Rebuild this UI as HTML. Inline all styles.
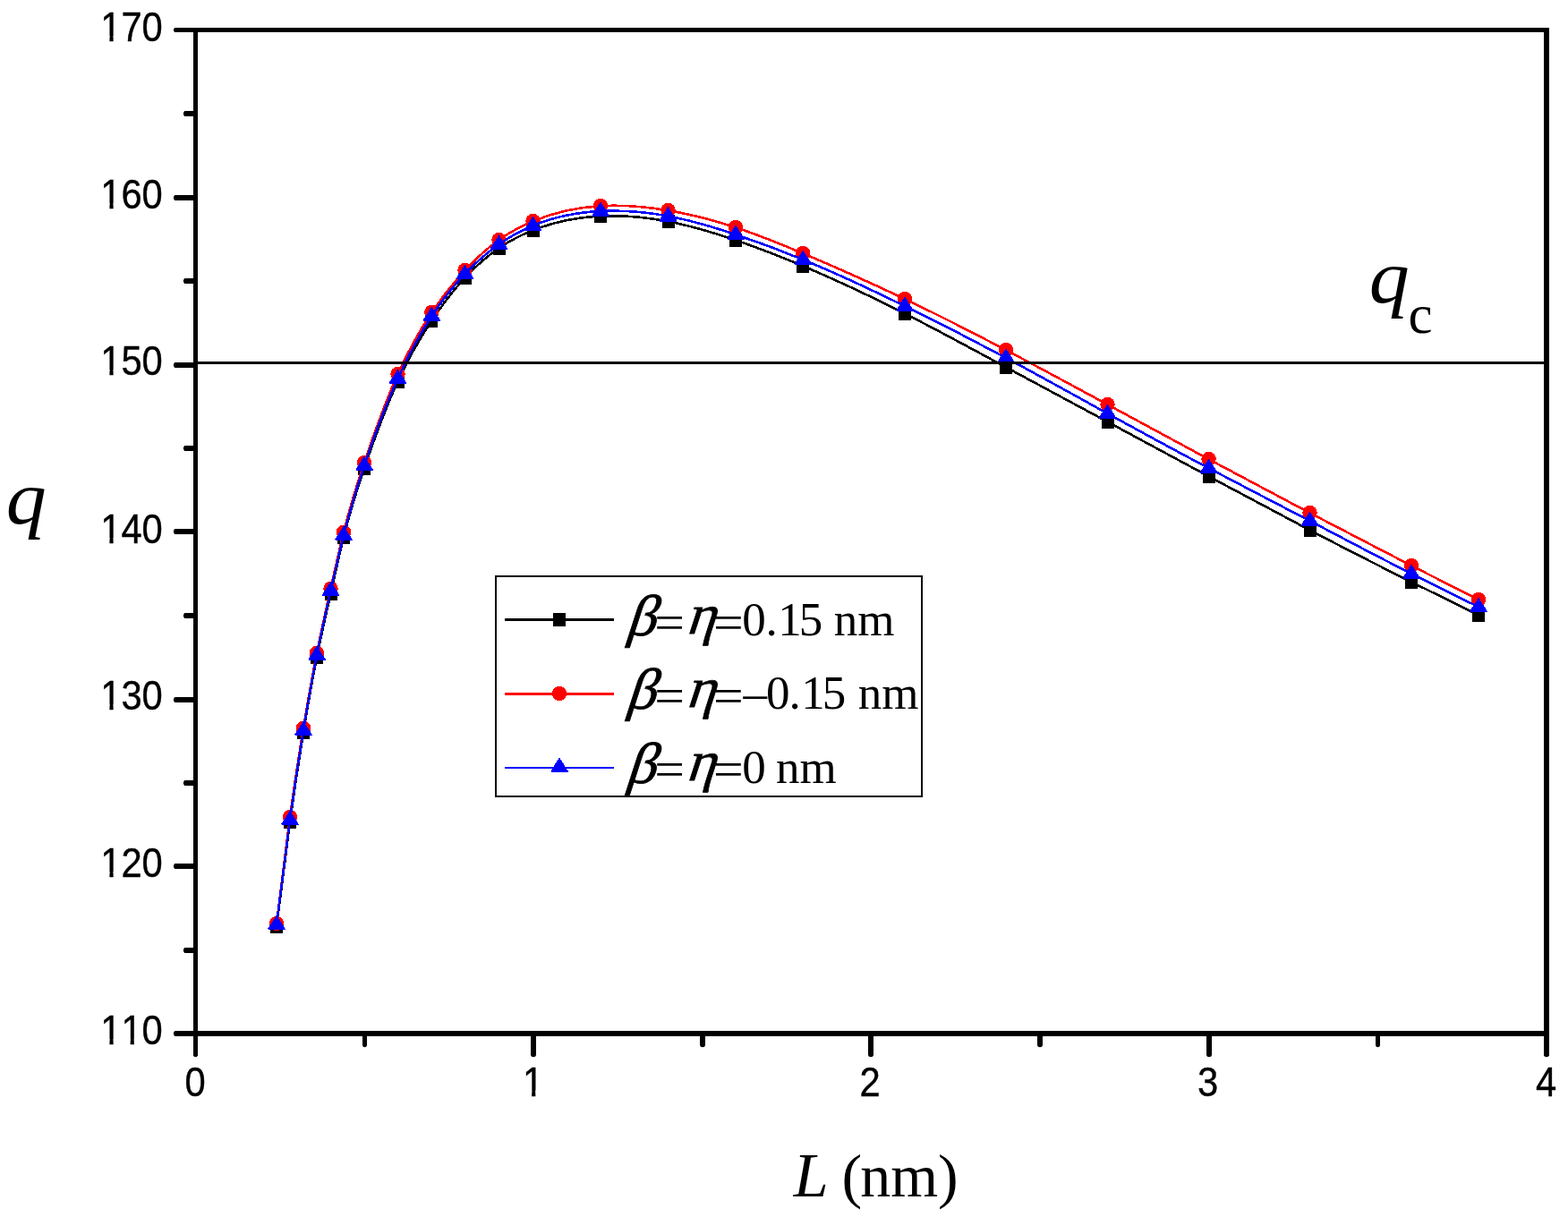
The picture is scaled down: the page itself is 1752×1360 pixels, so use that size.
<!DOCTYPE html>
<html lang="en"><head><meta charset="utf-8"><title>q versus L</title>
<style>html,body{margin:0;padding:0;background:#fff;}body{width:1752px;height:1360px;overflow:hidden;}svg{display:block;}text{fill:#000;font-kerning:none;}.tk{font-family:"Liberation Sans",sans-serif;font-size:46px;stroke:#000;stroke-width:0.4px;}.sr{font-family:"Liberation Serif",serif;}.it{font-style:italic;}.bd{font-weight:bold;}.gk{stroke:#000;stroke-width:0.8px;}</style></head><body>
<svg width="1752" height="1360" viewBox="0 0 1752 1360">
<rect width="1752" height="1360" fill="#fff"/>
<g shape-rendering="crispEdges">
<path d="M309.00,1035.30C314.00,995.11 319.00,954.92 324.00,918.40C329.00,881.88 334.00,849.04 339.00,818.40C344.00,787.76 349.00,759.32 354.00,734.30C359.17,708.45 364.33,686.26 369.50,663.30C374.33,641.82 379.17,619.68 384.00,600.30C391.67,569.56 399.33,545.77 407.00,523.30C419.50,486.67 432.00,453.55 444.50,426.30C457.13,398.76 469.77,377.23 482.40,358.30C494.77,339.77 507.13,323.74 519.50,310.40C532.17,296.74 544.83,285.90 557.50,277.30C570.17,268.70 582.83,262.32 595.50,257.30C620.67,247.32 645.83,242.67 671.00,241.50C696.17,240.33 721.33,242.64 746.50,247.50C771.67,252.36 796.83,259.79 822.00,268.40C847.07,276.98 872.13,286.73 897.20,297.30C935.13,313.29 973.07,331.13 1011.00,350.40C1048.67,369.53 1086.33,390.07 1124.00,410.40C1161.83,430.82 1199.67,451.04 1237.50,471.40C1275.20,491.69 1312.90,512.12 1350.60,532.40C1388.23,552.64 1425.87,572.72 1463.50,592.40C1501.33,612.18 1539.17,631.55 1577.00,650.40C1602.00,662.85 1627.00,675.08 1652.00,687.30" fill="none" stroke="#000000" stroke-width="2.6" stroke-linejoin="round"/>
<rect x="302.0" y="1027.8" width="14" height="15" fill="#000000"/>
<rect x="317.0" y="910.9" width="14" height="15" fill="#000000"/>
<rect x="332.0" y="810.9" width="14" height="15" fill="#000000"/>
<rect x="347.0" y="726.8" width="14" height="15" fill="#000000"/>
<rect x="362.5" y="655.8" width="14" height="15" fill="#000000"/>
<rect x="377.0" y="592.8" width="14" height="15" fill="#000000"/>
<rect x="400.0" y="515.8" width="14" height="15" fill="#000000"/>
<rect x="437.5" y="418.8" width="14" height="15" fill="#000000"/>
<rect x="475.4" y="350.8" width="14" height="15" fill="#000000"/>
<rect x="512.5" y="302.9" width="14" height="15" fill="#000000"/>
<rect x="550.5" y="269.8" width="14" height="15" fill="#000000"/>
<rect x="588.5" y="249.8" width="14" height="15" fill="#000000"/>
<rect x="664.0" y="234.0" width="14" height="15" fill="#000000"/>
<rect x="739.5" y="240.0" width="14" height="15" fill="#000000"/>
<rect x="815.0" y="260.9" width="14" height="15" fill="#000000"/>
<rect x="890.2" y="289.8" width="14" height="15" fill="#000000"/>
<rect x="1004.0" y="342.9" width="14" height="15" fill="#000000"/>
<rect x="1117.0" y="402.9" width="14" height="15" fill="#000000"/>
<rect x="1230.5" y="463.9" width="14" height="15" fill="#000000"/>
<rect x="1343.6" y="524.9" width="14" height="15" fill="#000000"/>
<rect x="1456.5" y="584.9" width="14" height="15" fill="#000000"/>
<rect x="1570.0" y="642.9" width="14" height="15" fill="#000000"/>
<rect x="1645.0" y="679.8" width="14" height="15" fill="#000000"/>
<path d="M309.00,1032.20C314.00,991.06 319.00,949.91 324.00,913.20C329.00,876.49 334.00,844.21 339.00,813.90C344.00,783.59 349.00,755.24 354.00,730.00C359.17,703.92 364.33,681.17 369.50,658.00C374.33,636.33 379.17,614.29 384.00,594.90C391.67,564.14 399.33,540.04 407.00,517.20C419.50,479.97 432.00,446.10 444.50,418.20C457.13,390.00 469.77,367.90 482.40,349.10C494.77,330.69 507.13,315.45 519.50,302.20C532.17,288.63 544.83,277.14 557.50,268.10C570.17,259.06 582.83,252.45 595.50,247.20C620.67,236.76 645.83,231.66 671.00,230.20C696.17,228.74 721.33,230.91 746.50,235.20C771.67,239.49 796.83,245.89 822.00,254.20C847.07,262.47 872.13,272.64 897.20,283.20C935.13,299.18 973.07,316.08 1011.00,334.20C1048.67,352.19 1086.33,371.39 1124.00,391.20C1161.83,411.09 1199.67,431.60 1237.50,452.10C1275.20,472.53 1312.90,492.96 1350.60,513.20C1388.23,533.40 1425.87,553.41 1463.50,573.20C1501.33,593.10 1539.17,612.78 1577.00,632.10C1602.00,644.87 1627.00,657.48 1652.00,670.10" fill="none" stroke="#ff0000" stroke-width="2.6" stroke-linejoin="round"/>
<circle cx="309.0" cy="1032.0" r="8.2" fill="#ff0000"/>
<circle cx="324.0" cy="913.0" r="8.2" fill="#ff0000"/>
<circle cx="339.0" cy="813.7" r="8.2" fill="#ff0000"/>
<circle cx="354.0" cy="729.8" r="8.2" fill="#ff0000"/>
<circle cx="369.5" cy="657.8" r="8.2" fill="#ff0000"/>
<circle cx="384.0" cy="594.7" r="8.2" fill="#ff0000"/>
<circle cx="407.0" cy="517.0" r="8.2" fill="#ff0000"/>
<circle cx="444.5" cy="418.0" r="8.2" fill="#ff0000"/>
<circle cx="482.4" cy="348.9" r="8.2" fill="#ff0000"/>
<circle cx="519.5" cy="302.0" r="8.2" fill="#ff0000"/>
<circle cx="557.5" cy="267.9" r="8.2" fill="#ff0000"/>
<circle cx="595.5" cy="247.0" r="8.2" fill="#ff0000"/>
<circle cx="671.0" cy="230.0" r="8.2" fill="#ff0000"/>
<circle cx="746.5" cy="235.0" r="8.2" fill="#ff0000"/>
<circle cx="822.0" cy="254.0" r="8.2" fill="#ff0000"/>
<circle cx="897.2" cy="283.0" r="8.2" fill="#ff0000"/>
<circle cx="1011.0" cy="334.0" r="8.2" fill="#ff0000"/>
<circle cx="1124.0" cy="391.0" r="8.2" fill="#ff0000"/>
<circle cx="1237.5" cy="451.9" r="8.2" fill="#ff0000"/>
<circle cx="1350.6" cy="513.0" r="8.2" fill="#ff0000"/>
<circle cx="1463.5" cy="573.0" r="8.2" fill="#ff0000"/>
<circle cx="1577.0" cy="631.9" r="8.2" fill="#ff0000"/>
<circle cx="1652.0" cy="669.9" r="8.2" fill="#ff0000"/>
<path d="M309.00,1033.20C314.00,992.98 319.00,952.75 324.00,916.20C329.00,879.65 334.00,846.76 339.00,816.20C344.00,785.64 349.00,757.39 354.00,732.10C359.17,705.97 364.33,682.99 369.50,660.10C374.33,638.68 379.17,617.34 384.00,598.20C391.67,567.84 399.33,543.01 407.00,520.10C419.50,482.75 432.00,450.49 444.50,423.00C457.13,395.22 469.77,372.30 482.40,353.10C494.77,334.31 507.13,319.08 519.50,306.10C532.17,292.80 544.83,281.86 557.50,273.00C570.17,264.14 582.83,257.36 595.50,252.10C620.67,241.65 645.83,237.22 671.00,236.00C696.17,234.78 721.33,236.77 746.50,241.50C771.67,246.23 796.83,253.69 822.00,262.10C847.07,270.48 872.13,279.80 897.20,290.10C935.13,305.69 973.07,323.51 1011.00,342.10C1048.67,360.56 1086.33,379.77 1124.00,399.90C1161.83,420.12 1199.67,441.27 1237.50,462.10C1275.20,482.85 1312.90,503.29 1350.60,523.20C1388.23,543.08 1425.87,562.43 1463.50,582.10C1501.33,601.87 1539.17,621.96 1577.00,641.10C1602.00,653.74 1627.00,665.97 1652.00,678.20" fill="none" stroke="#0000ff" stroke-width="2.6" stroke-linejoin="round"/>
<polygon points="309.0,1022.6 318.5,1037.5 318.5,1039.2 299.5,1039.2 299.5,1037.5" fill="#0000ff"/>
<polygon points="324.0,905.6 333.5,920.5 333.5,922.2 314.5,922.2 314.5,920.5" fill="#0000ff"/>
<polygon points="339.0,805.6 348.5,820.5 348.5,822.2 329.5,822.2 329.5,820.5" fill="#0000ff"/>
<polygon points="354.0,721.5 363.5,736.4 363.5,738.1 344.5,738.1 344.5,736.4" fill="#0000ff"/>
<polygon points="369.5,649.5 379.0,664.4 379.0,666.1 360.0,666.1 360.0,664.4" fill="#0000ff"/>
<polygon points="384.0,587.6 393.5,602.5 393.5,604.2 374.5,604.2 374.5,602.5" fill="#0000ff"/>
<polygon points="407.0,509.5 416.5,524.4 416.5,526.1 397.5,526.1 397.5,524.4" fill="#0000ff"/>
<polygon points="444.5,412.4 454.0,427.3 454.0,429.0 435.0,429.0 435.0,427.3" fill="#0000ff"/>
<polygon points="482.4,342.5 491.9,357.4 491.9,359.1 472.9,359.1 472.9,357.4" fill="#0000ff"/>
<polygon points="519.5,295.5 529.0,310.4 529.0,312.1 510.0,312.1 510.0,310.4" fill="#0000ff"/>
<polygon points="557.5,262.4 567.0,277.3 567.0,279.0 548.0,279.0 548.0,277.3" fill="#0000ff"/>
<polygon points="595.5,241.5 605.0,256.4 605.0,258.1 586.0,258.1 586.0,256.4" fill="#0000ff"/>
<polygon points="671.0,225.4 680.5,240.3 680.5,242.0 661.5,242.0 661.5,240.3" fill="#0000ff"/>
<polygon points="746.5,230.9 756.0,245.8 756.0,247.5 737.0,247.5 737.0,245.8" fill="#0000ff"/>
<polygon points="822.0,251.5 831.5,266.4 831.5,268.1 812.5,268.1 812.5,266.4" fill="#0000ff"/>
<polygon points="897.2,279.5 906.7,294.4 906.7,296.1 887.7,296.1 887.7,294.4" fill="#0000ff"/>
<polygon points="1011.0,331.5 1020.5,346.4 1020.5,348.1 1001.5,348.1 1001.5,346.4" fill="#0000ff"/>
<polygon points="1124.0,389.3 1133.5,404.2 1133.5,405.9 1114.5,405.9 1114.5,404.2" fill="#0000ff"/>
<polygon points="1237.5,451.5 1247.0,466.4 1247.0,468.1 1228.0,468.1 1228.0,466.4" fill="#0000ff"/>
<polygon points="1350.6,512.6 1360.1,527.5 1360.1,529.2 1341.1,529.2 1341.1,527.5" fill="#0000ff"/>
<polygon points="1463.5,571.5 1473.0,586.4 1473.0,588.1 1454.0,588.1 1454.0,586.4" fill="#0000ff"/>
<polygon points="1577.0,630.5 1586.5,645.4 1586.5,647.1 1567.5,647.1 1567.5,645.4" fill="#0000ff"/>
<polygon points="1652.0,667.6 1661.5,682.5 1661.5,684.2 1642.5,684.2 1642.5,682.5" fill="#0000ff"/>
</g>
<rect x="219" y="404" width="1508" height="3" fill="#000" shape-rendering="crispEdges"/>
<g fill="#000" shape-rendering="crispEdges">
<rect x="216" y="31" width="5" height="1149"/>
<rect x="1725" y="31" width="6" height="1149"/>
<rect x="195" y="31" width="1536" height="5"/>
<rect x="195" y="1152" width="1536" height="6"/>
<rect x="206" y="124" width="10" height="6"/>
<rect x="195" y="218" width="21" height="6"/>
<rect x="206" y="311" width="10" height="6"/>
<rect x="195" y="405" width="21" height="6"/>
<rect x="206" y="498" width="10" height="6"/>
<rect x="195" y="591" width="21" height="6"/>
<rect x="206" y="685" width="10" height="6"/>
<rect x="195" y="779" width="21" height="6"/>
<rect x="206" y="872" width="10" height="6"/>
<rect x="195" y="965" width="21" height="6"/>
<rect x="206" y="1059" width="10" height="6"/>
<rect x="405" y="1158" width="5" height="10"/>
<rect x="593" y="1158" width="6" height="21"/>
<rect x="782" y="1158" width="6" height="10"/>
<rect x="970" y="1158" width="6" height="21"/>
<rect x="1159" y="1158" width="6" height="10"/>
<rect x="1348" y="1158" width="6" height="21"/>
<rect x="1537" y="1158" width="5" height="10"/>
</g>
<g fill="#000">
<ellipse cx="197.1" cy="1155.0" rx="3.2" ry="3.0"/>
<ellipse cx="208.1" cy="1062.0" rx="3.2" ry="3.0"/>
<ellipse cx="197.1" cy="968.0" rx="3.2" ry="3.0"/>
<ellipse cx="208.1" cy="875.0" rx="3.2" ry="3.0"/>
<ellipse cx="197.1" cy="782.0" rx="3.2" ry="3.0"/>
<ellipse cx="208.1" cy="688.0" rx="3.2" ry="3.0"/>
<ellipse cx="197.1" cy="594.0" rx="3.2" ry="3.0"/>
<ellipse cx="208.1" cy="501.0" rx="3.2" ry="3.0"/>
<ellipse cx="197.1" cy="408.0" rx="3.2" ry="3.0"/>
<ellipse cx="208.1" cy="314.0" rx="3.2" ry="3.0"/>
<ellipse cx="197.1" cy="221.0" rx="3.2" ry="3.0"/>
<ellipse cx="208.1" cy="127.0" rx="3.2" ry="3.0"/>
<ellipse cx="197.1" cy="33.5" rx="3.2" ry="2.5"/>
<ellipse cx="407.5" cy="1167.0" rx="2.5" ry="3.2"/>
<ellipse cx="596.0" cy="1178.0" rx="3.0" ry="3.2"/>
<ellipse cx="785.0" cy="1167.0" rx="3.0" ry="3.2"/>
<ellipse cx="973.0" cy="1178.0" rx="3.0" ry="3.2"/>
<ellipse cx="1162.0" cy="1167.0" rx="3.0" ry="3.2"/>
<ellipse cx="1351.0" cy="1178.0" rx="3.0" ry="3.2"/>
<ellipse cx="1539.5" cy="1167.0" rx="2.5" ry="3.2"/>
<ellipse cx="218.5" cy="1178.0" rx="2.5" ry="3.2"/>
<ellipse cx="1728.0" cy="1178.0" rx="3.0" ry="3.2"/>
</g>
<defs>
<clipPath id="cy" clipPathUnits="userSpaceOnUse"><path clip-rule="evenodd" d="M-120,-60H20V20H-120ZM-74.75,-6H-65.43V2H-74.75ZM-60.87,-6H-51.91V2H-60.87Z"/></clipPath>
<clipPath id="cy2" clipPathUnits="userSpaceOnUse"><path clip-rule="evenodd" d="M-120,-60H20V20H-120ZM-74.75,-6H-65.43V2H-74.75ZM-60.87,-6H-51.91V2H-60.87ZM-49.16,-6H-39.85V2H-49.16ZM-35.28,-6H-26.33V2H-35.28Z"/></clipPath>
<clipPath id="cx" clipPathUnits="userSpaceOnUse"><path clip-rule="evenodd" d="M-60,-60H60V20H-60ZM-10.79,-6H-1.47V2H-10.79ZM3.09,-6H12.05V2H3.09Z"/></clipPath>
</defs>
<text class="tk" text-anchor="end" clip-path="url(#cy)" transform="translate(181.8,46) scale(0.907,1)">170</text>
<text class="tk" text-anchor="end" clip-path="url(#cy)" transform="translate(181.8,233) scale(0.907,1)">160</text>
<text class="tk" text-anchor="end" clip-path="url(#cy)" transform="translate(181.8,419) scale(0.907,1)">150</text>
<text class="tk" text-anchor="end" clip-path="url(#cy)" transform="translate(181.8,607) scale(0.907,1)">140</text>
<text class="tk" text-anchor="end" clip-path="url(#cy)" transform="translate(181.8,793) scale(0.907,1)">130</text>
<text class="tk" text-anchor="end" clip-path="url(#cy)" transform="translate(181.8,980) scale(0.907,1)">120</text>
<text class="tk" text-anchor="end" clip-path="url(#cy2)" transform="translate(181.8,1167) scale(0.907,1)">110</text>
<text class="tk" text-anchor="middle" transform="translate(218.0,1224.6) scale(0.907,1)">0</text>
<text class="tk" text-anchor="middle" clip-path="url(#cx)" transform="translate(595.5,1224.6) scale(0.907,1)">1</text>
<text class="tk" text-anchor="middle" transform="translate(972.2,1224.6) scale(0.907,1)">2</text>
<text class="tk" text-anchor="middle" transform="translate(1349.6,1224.6) scale(0.907,1)">3</text>
<text class="tk" text-anchor="middle" transform="translate(1727.5,1224.6) scale(0.907,1)">4</text>
<text class="sr it" transform="translate(6.71,584.80) scale(1.0,0.942)" font-size="90">q</text>
<text class="sr" y="1337" font-size="68"><tspan class="it" x="886.82" font-size="70">L</tspan><tspan x="926.00 940.61 961.14 995.14 1048.03"> (nm)</tspan></text>
<text class="sr it" transform="translate(1529.81,338.40) scale(1.0,0.942)" font-size="90">q</text>
<text class="sr" x="1573.48" y="371.70" font-size="61">c</text>
<rect x="554" y="644" width="476" height="246" fill="#fff" stroke="#000" stroke-width="2" shape-rendering="crispEdges"/>
<g shape-rendering="crispEdges"><rect x="564" y="691" width="122" height="3" fill="#000000"/>
<rect x="618.0" y="685.0" width="14" height="15" fill="#000000"/>
</g>
<text class="sr gk" transform="translate(698.6,710.20) skewX(-18)" font-size="64.6">β</text>
<text class="sr" transform="translate(731.32,713.60) scale(1.075,1)" font-size="55.6">=</text>
<text class="sr gk" transform="translate(765.4,707.90) skewX(-18)" font-size="63.3">η</text>
<text class="sr" transform="translate(797.02,713.60) scale(1.075,1)" font-size="55.6">=</text>
<text class="sr" x="829.18 855.41 869.34 892.82 919.32 931.68 958.18" y="710.30" font-size="53">0.15 nm</text>
<g shape-rendering="crispEdges"><rect x="564" y="774" width="122" height="3" fill="#ff0000"/>
<circle cx="625.0" cy="775.0" r="8.2" fill="#ff0000"/>
</g>
<text class="sr gk" transform="translate(698.6,792.20) skewX(-18)" font-size="64.6">β</text>
<text class="sr" transform="translate(731.32,795.60) scale(1.075,1)" font-size="55.6">=</text>
<text class="sr gk" transform="translate(765.4,789.90) skewX(-18)" font-size="63.3">η</text>
<text class="sr" transform="translate(797.02,795.60) scale(1.075,1)" font-size="55.6">=</text>
<text class="sr" x="830.56 855.98 881.41 895.34 918.82 945.32 958.68 985.18" y="792.30" font-size="53">–0.15 nm</text>
<g shape-rendering="crispEdges"><rect x="564" y="857" width="122" height="2" fill="#0000ff"/>
<polygon points="625.0,846.4 634.5,861.3 634.5,863.0 615.5,863.0 615.5,861.3" fill="#0000ff"/>
</g>
<text class="sr gk" transform="translate(698.6,874.60) skewX(-18)" font-size="64.6">β</text>
<text class="sr" transform="translate(731.32,878.00) scale(1.075,1)" font-size="55.6">=</text>
<text class="sr gk" transform="translate(765.4,872.30) skewX(-18)" font-size="63.3">η</text>
<text class="sr" transform="translate(797.02,878.00) scale(1.075,1)" font-size="55.6">=</text>
<text class="sr" x="829.18 855.68 866.88 893.38" y="874.70" font-size="53">0 nm</text>
</svg></body></html>
